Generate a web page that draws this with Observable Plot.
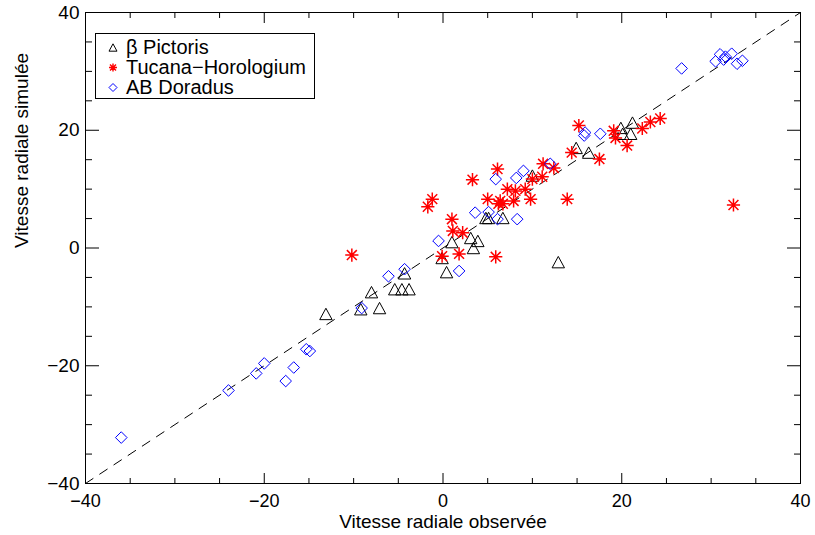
<!DOCTYPE html>
<html>
<head>
<meta charset="utf-8">
<script src="https://cdn.jsdelivr.net/npm/d3@7"></script>
<script src="https://cdn.jsdelivr.net/npm/@observablehq/plot@0.6"></script>
<style>
  html, body { margin: 0; padding: 0; background: #fff; }
  #wrap { position: relative; width: 815px; height: 535px; font-family: "Liberation Sans", Arial, Helvetica, sans-serif; }
  #legend { position: absolute; left: 95px; top: 33px; width: 220px; height: 66px; border: 1px solid #000; background: #fff; box-sizing: border-box; }
  .row { position: absolute; left: 0; height: 20px; display: flex; align-items: center; font-size: 20px; color: #000; white-space: nowrap; }
  .row svg { width: 30px; height: 20px; }
</style>
</head>
<body>
<div id="wrap"></div>
<script>
// ---- data ----
const betaPicX = [-13.1, -9.2, -7.1, -8.0, -5.4, -4.6, -3.8, -4.3, -0.1, 0.4, 1.0, 3.1, 3.4, 3.9, 4.8, 5.1, 6.7, 10.0, 12.9, 14.9, 16.3, 19.9, 20.1, 21.0, 21.2];
const betaPicY = [-11.2, -10.4, -10.2, -7.5, -7.0, -7.0, -7.0, -4.3, -1.7, -4.1, 1.0, 1.7, 0.0, 1.2, 5.1, 5.1, 5.1, 12.3, -2.4, 17.0, 16.2, 20.4, 19.4, 19.4, 21.3];

const tucHorX = [-10.2, -1.7, -1.2, -0.1, 1.0, 1.1, 2.2, 1.8, 3.3, 5.0, 6.1, 6.4, 6.7, 6.2, 7.9, 7.2, 8.1, 9.2, 9.8, 10.0, 11.1, 11.2, 12.4, 5.9, 13.9, 14.4, 15.2, 17.5, 19.1, 19.3, 20.6, 22.3, 23.2, 24.3, 32.5];
const tucHorY = [-1.2, 7.0, 8.3, -1.4, 4.9, 2.9, 2.6, -1.0, 11.6, 8.3, 13.4, 8.0, 7.5, 7.5, 8.0, 10.0, 9.7, 10.0, 8.3, 11.7, 12.1, 14.3, 13.6, -1.5, 8.3, 16.2, 20.8, 15.1, 19.9, 18.7, 17.4, 20.3, 21.4, 22.0, 7.3];

const abDorX = [-36.0, -24.0, -20.9, -20.0, -17.6, -16.7, -15.3, -14.9, -9.1, -6.1, -4.3, -0.5, 1.8, 3.6, 5.1, 5.9, 6.1, 8.3, 8.2, 9.0, 12.0, 15.9, 15.8, 17.6, 26.7, 30.5, 31.0, 31.4, 31.6, 32.3, 32.9, 33.5];
const abDorY = [-32.2, -24.2, -21.3, -19.6, -22.6, -20.3, -17.2, -17.5, -10.2, -4.8, -3.6, 1.2, -3.9, 6.0, 6.1, 11.7, 4.9, 4.9, 11.9, 13.1, 14.3, 19.6, 19.1, 19.4, 30.5, 31.7, 32.9, 32.0, 32.5, 33.0, 31.3, 31.8];

const seriesNames = ["β Pictoris", "Tucana−Horologium", "AB Doradus"];
const majorTicks = [-40, -20, 0, 20, 40];
const minorTicks = [-35, -30, -25, -15, -10, -5, 5, 10, 15, 25, 30, 35];
const identityLine = [-40, 40];
const xLabel = "Vitesse radiale observée";
const yLabel = "Vitesse radiale simulée";

// ---- custom IDL-like symbols ----
const triangle = { draw(ctx, size) { const k = Math.sqrt(size / Math.PI); ctx.moveTo(-k, k * 0.92); ctx.lineTo(0, -k * 0.92); ctx.lineTo(k, k * 0.92); ctx.closePath(); } };
const diamond = { draw(ctx, size) { const k = Math.sqrt(size / Math.PI); ctx.moveTo(0, -k); ctx.lineTo(k, 0); ctx.lineTo(0, k); ctx.lineTo(-k, 0); ctx.closePath(); } };
const star = { draw(ctx, size) { const k = Math.sqrt(size / Math.PI); const d = k * 0.75;
  ctx.moveTo(-k, 0); ctx.lineTo(k, 0); ctx.moveTo(0, -k); ctx.lineTo(0, k);
  ctx.moveTo(-d, -d); ctx.lineTo(d, d); ctx.moveTo(-d, d); ctx.lineTo(d, -d); } };

const zip = (xs, ys) => xs.map((x, i) => ({x, y: ys[i]}));
const betaPic = zip(betaPicX, betaPicY);
const tucHor = zip(tucHorX, tucHorY);
const abDor = zip(abDorX, abDorY);

const fmt = d3.format("d");
const blank = () => "";

const chart = Plot.plot({
  width: 815, height: 535,
  marginLeft: 85, marginRight: 15, marginTop: 12, marginBottom: 52,
  x: {domain: [-40, 40]},
  y: {domain: [-40, 40]},
  style: {fontFamily: "'Liberation Sans', Arial, Helvetica, sans-serif", fontSize: "19px", color: "#000", background: "#fff"},
  marks: [
    Plot.line(identityLine, {x: d => d, y: d => d, stroke: "#000", strokeWidth: 1, strokeDasharray: "9,8"}),
    // bottom / top x ticks
    Plot.axisX(majorTicks, {anchor: "bottom", tickSize: -10, tickFormat: blank, label: null}),
    Plot.axisX(minorTicks, {anchor: "bottom", tickSize: -5, tickFormat: blank, label: null}),
    Plot.axisX(majorTicks, {anchor: "top", tickSize: -10, tickFormat: blank, label: null}),
    Plot.axisX(minorTicks, {anchor: "top", tickSize: -5, tickFormat: blank, label: null}),
    Plot.axisX(majorTicks, {anchor: "bottom", tickSize: 0, tickPadding: 11, tickFormat: fmt, label: null, fontSize: 18}),
    // left / right y ticks
    Plot.axisY(majorTicks, {anchor: "left", tickSize: -14, tickFormat: blank, label: null}),
    Plot.axisY(minorTicks, {anchor: "left", tickSize: -7, tickFormat: blank, label: null}),
    Plot.axisY(majorTicks, {anchor: "right", tickSize: -14, tickFormat: blank, label: null}),
    Plot.axisY(minorTicks, {anchor: "right", tickSize: -7, tickFormat: blank, label: null}),
    Plot.axisY(majorTicks, {anchor: "left", tickSize: 0, tickPadding: 6, tickFormat: fmt, label: null}),
    Plot.frame({stroke: "#000", strokeWidth: 1}),
    Plot.text([xLabel], {text: d => d, frameAnchor: "bottom", dy: 44, fontSize: 19}),
    Plot.text([yLabel], {text: d => d, frameAnchor: "left", dx: -64, rotate: -90, fontSize: 19}),
    Plot.dot(betaPic, {x: "x", y: "y", symbol: triangle, r: 6.2, fill: "none", stroke: "#000", strokeWidth: 1}),
    Plot.dot(tucHor, {x: "x", y: "y", symbol: star, r: 6.6, fill: "none", stroke: "#ff0000", strokeWidth: 1.5}),
    Plot.dot(abDor, {x: "x", y: "y", symbol: diamond, r: 5.8, fill: "none", stroke: "#0000ff", strokeWidth: 1})
  ]
});

const wrap = document.getElementById("wrap");
wrap.appendChild(chart);

// legend (inside the plot frame, top-left)
const legend = document.createElement("div");
legend.id = "legend";
const symbols = [triangle, star, diamond];
const colors = ["#000", "#ff0000", "#0000ff"];
seriesNames.forEach((name, i) => {
  const row = document.createElement("div");
  row.className = "row";
  row.style.top = (3 + i * 20) + "px";
  const svg = d3.create("svg").attr("width", 30).attr("height", 20);
  svg.append("path")
    .attr("transform", "translate(17,10.5)")
    .attr("d", d3.symbol(symbols[i], Math.PI * 16)())
    .attr("fill", "none").attr("stroke", colors[i]).attr("stroke-width", i === 1 ? 1.4 : 1);
  row.appendChild(svg.node());
  const t = document.createElement("span");
  t.textContent = name;
  row.appendChild(t);
  legend.appendChild(row);
});
wrap.appendChild(legend);
</script>
</body>
</html>
